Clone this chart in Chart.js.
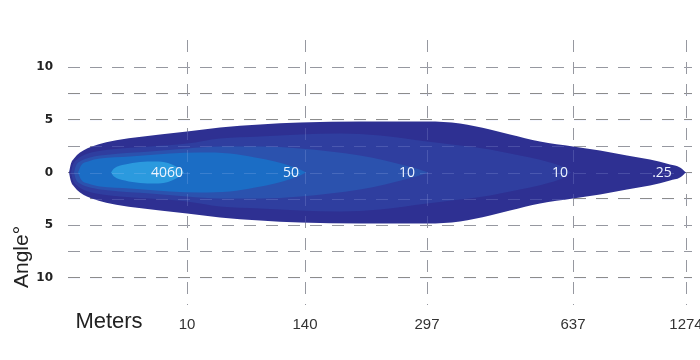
<!DOCTYPE html>
<html>
<head>
<meta charset="utf-8">
<script src="https://cdn.jsdelivr.net/npm/chart.js@4.4.1/dist/chart.umd.min.js"></script>
<style>
  html, body { margin: 0; padding: 0; background: #fff; }
  #wrap { width: 700px; height: 360px; }
</style>
</head>
<body>
<div id="wrap"><canvas id="beam"></canvas></div>
<script>
// distance gridlines: label in meters and where it sits along the beam axis
const meterLabels = ['10', '140', '297', '637', '1274'];
const meterPos = [119, 237, 359, 505, 618];
const angleTicks = [-10, -7.5, -5, -2.5, 0, 2.5, 5, 7.5, 10];

// lux contours, outer first. X = position along beam, W = half width (deg)
const luxLabels = ['.25', '10', '10', '50', '4060'];
const luxLabelPos = [594, 492, 339, 223, 99];

const c1X = [1, 3, 6, 12, 27, 42, 67, 92, 119, 152, 192, 232, 292, 359, 392, 422, 442, 472, 505, 532, 559, 582, 602, 612, 618];
const c1W = [0, 0.86, 1.33, 1.9, 2.57, 2.95, 3.33, 3.62, 3.9, 4.29, 4.57, 4.76, 4.86, 4.86, 4.67, 4.1, 3.62, 2.95, 2.48, 2.1, 1.62, 1.24, 0.76, 0.48, 0];

const c2X = [3, 5, 9, 17, 42, 82, 119, 152, 192, 232, 272, 312, 359, 392, 422, 442, 462, 482, 494, 503];
const c2W = [0, 0.76, 1.24, 1.71, 2.19, 2.48, 2.76, 3.24, 3.43, 3.62, 3.71, 3.52, 2.95, 2.57, 2.19, 1.81, 1.43, 0.95, 0.57, 0];

const c3X = [6, 8, 12, 22, 42, 82, 119, 152, 192, 232, 262, 292, 317, 337, 350, 360];
const c3W = [0, 0.67, 1.05, 1.43, 1.71, 2.0, 2.29, 2.48, 2.48, 2.29, 2.0, 1.62, 1.14, 0.67, 0.33, 0];

const c4X = [10, 13, 20, 32, 62, 102, 132, 162, 187, 207, 224, 232, 238];
const c4W = [0, 0.67, 1.05, 1.33, 1.52, 1.81, 1.9, 1.81, 1.43, 1.05, 0.57, 0.29, 0];

const c5X = [43, 46, 57, 72, 87, 100, 109, 116];
const c5W = [0, 0.38, 0.76, 1.0, 1.05, 0.9, 0.52, 0];

const luxColors = ['#2e3092', '#2f3e9f', '#2b52ae', '#1b6dc5', '#2b9ade'];

const contours = [[c1X, c1W], [c2X, c2W], [c3X, c3W], [c4X, c4W], [c5X, c5W]];

// inner contour first so chart.js paints it last (on top)
const datasets = [];
for (let i = contours.length - 1; i >= 0; i--) {
    const xs = contours[i][0];
    const ws = contours[i][1];
    datasets.push({
        data: xs.map((x, j) => ({ x: x, y: ws[j] })),
        borderColor: 'rgba(0,0,0,0)',
        pointRadius: 0,
        fill: false,
        cubicInterpolationMode: 'monotone'
    });
    datasets.push({
        data: xs.map((x, j) => ({ x: x, y: -ws[j] })),
        borderColor: 'rgba(0,0,0,0)',
        backgroundColor: luxColors[i],
        pointRadius: 0,
        fill: '-1',
        cubicInterpolationMode: 'monotone'
    });
}

// faint grid showing through the beam
const gridOverlay = {
    id: 'gridOverlay',
    afterDatasetsDraw(chart) {
        const ctx = chart.ctx;
        const a = chart.chartArea;
        const sx = chart.scales.x, sy = chart.scales.y;
        ctx.save();
        ctx.strokeStyle = 'rgba(200,210,255,0.18)';
        ctx.lineWidth = 1;
        ctx.setLineDash([12, 10]);
        meterPos.forEach(v => {
            const px = Math.round(sx.getPixelForValue(v)) + 0.5;
            ctx.beginPath(); ctx.moveTo(px, a.top); ctx.lineTo(px, a.bottom); ctx.stroke();
        });
        angleTicks.forEach(v => {
            const py = Math.round(sy.getPixelForValue(v)) + 0.5;
            ctx.beginPath(); ctx.moveTo(a.left, py); ctx.lineTo(a.right, py); ctx.stroke();
        });
        ctx.restore();
    }
};

const luxText = {
    id: 'luxText',
    afterDatasetsDraw(chart) {
        const ctx = chart.ctx;
        const sx = chart.scales.x, sy = chart.scales.y;
        ctx.save();
        ctx.fillStyle = '#eef4ff';
        ctx.font = '14px "Open Sans", sans-serif';
        ctx.textAlign = 'center';
        ctx.textBaseline = 'middle';
        luxLabels.forEach((t, i) => {
            ctx.fillText(t, sx.getPixelForValue(luxLabelPos[i]), sy.getPixelForValue(0) + 1);
        });
        ctx.restore();
    }
};

const axisTitles = {
    id: 'axisTitles',
    afterDraw(chart) {
        const ctx = chart.ctx;
        ctx.save();
        ctx.fillStyle = '#222';
        ctx.textAlign = 'center';
        ctx.textBaseline = 'middle';
        ctx.font = '22px "Liberation Sans", Arial, sans-serif';
        ctx.fillText('Meters', 109, 322);
        ctx.translate(22, 257);
        ctx.rotate(-Math.PI / 2);
        ctx.font = '21px "Liberation Sans", Arial, sans-serif';
        ctx.fillText('Angle°', 0, 0);
        ctx.restore();
    }
};

const ctx = document.getElementById('beam').getContext('2d');
const beamChart = new Chart(ctx, {
    type: 'line',
    data: { datasets: datasets },
    options: {
        responsive: true,
        maintainAspectRatio: false,
        animation: false,
        layout: { padding: { top: 40, right: 8, left: 0, bottom: 0 } },
        plugins: {
            legend: { display: false },
            tooltip: { enabled: false }
        },
        scales: {
            x: {
                type: 'linear',
                min: 0,
                max: 624,
                afterBuildTicks: s => { s.ticks = meterPos.map(v => ({ value: v })); },
                afterFit: s => { s.height = 55; s.paddingLeft = 0; s.paddingRight = 0; },
                ticks: {
                    callback: (v, i) => meterLabels[i],
                    autoSkip: false,
                    maxRotation: 0,
                    padding: 11,
                    color: '#333',
                    font: { family: '"Liberation Sans Narrow", "Liberation Sans", sans-serif', size: 15 }
                },
                grid: { color: '#8c8c8c', lineWidth: 1, drawTicks: false },
                border: { display: false, dash: [12, 10] }
            },
            y: {
                type: 'linear',
                min: -12.6,
                max: 12.6,
                afterBuildTicks: s => { s.ticks = angleTicks.map(v => ({ value: v })); },
                afterFit: s => { s.width = 68; s.paddingTop = 0; s.paddingBottom = 0; },
                ticks: {
                    callback: v => (v % 5 === 0 ? String(Math.abs(v)) : ''),
                    padding: 15,
                    color: '#222',
                    font: { family: '"DejaVu Sans", sans-serif', weight: 'bold', size: 12 }
                },
                grid: { color: '#8c8c8c', lineWidth: 1, drawTicks: false },
                border: { display: false, dash: [12, 10] }
            }
        }
    },
    plugins: [gridOverlay, luxText, axisTitles]
});
</script>
</body>
</html>
